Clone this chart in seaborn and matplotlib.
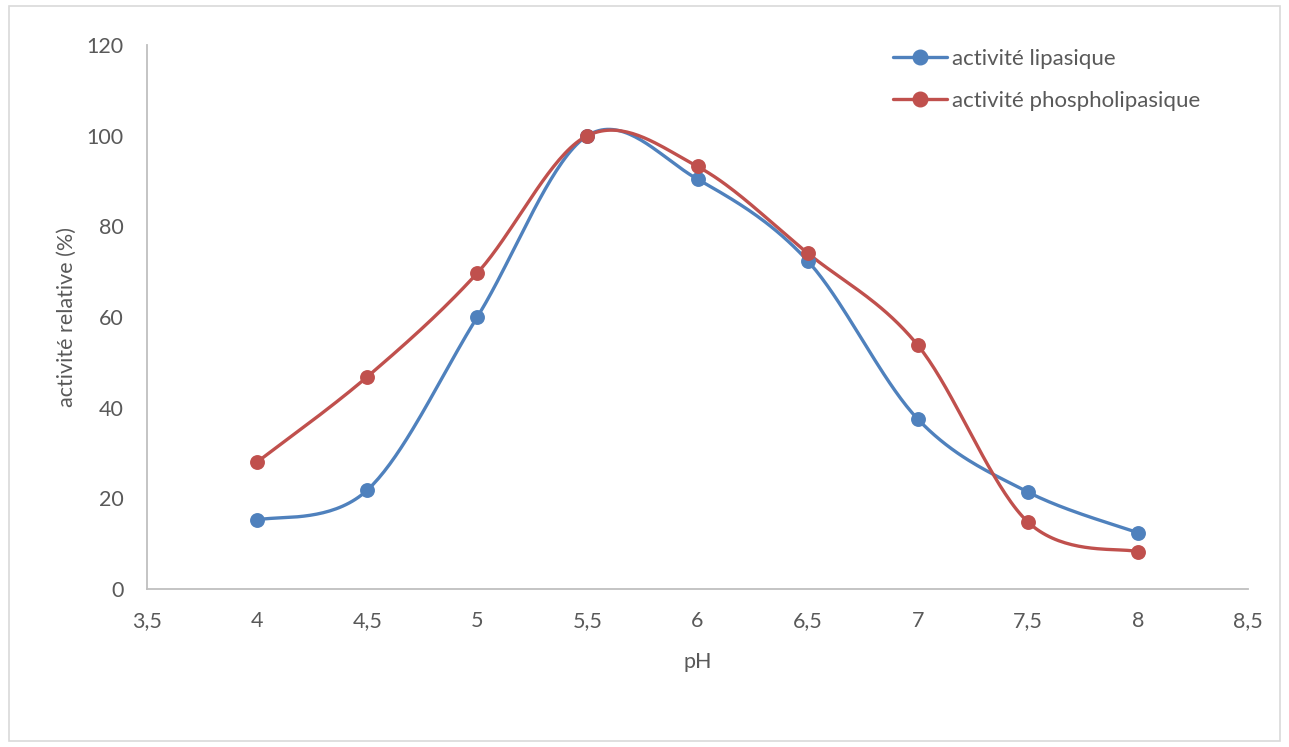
import numpy as np
import pandas as pd
import matplotlib
matplotlib.use("Agg")
import matplotlib.pyplot as plt
from matplotlib.lines import Line2D
from matplotlib.patches import Rectangle
import seaborn as sns

# pH values and relative activities (%)
ph = [4.0, 4.5, 5.0, 5.5, 6.0, 6.5, 7.0, 7.5, 8.0]
lipase = [15.2, 21.8, 60.0, 100.0, 90.4, 72.4, 37.5, 21.4, 12.4]
phospholipase = [28.0, 46.8, 69.7, 100.0, 93.2, 74.1, 53.8, 14.8, 8.2]

series_names = ["activité lipasique", "activité phospholipasique"]
series_colors = ["#4F81BD", "#C0504D"]
x_ticks = [3.5, 4, 4.5, 5, 5.5, 6, 6.5, 7, 7.5, 8, 8.5]
y_ticks = [0, 20, 40, 60, 80, 100, 120]

sns.set_theme(style="white")
plt.rcParams["font.family"] = ["Lato", "DejaVu Sans"]
text_color = "#595959"
fs = 15.5


def smooth_curve(xs, ys, n=40):
    """Catmull-Rom style Bezier smoothing through every point."""
    p = np.column_stack([xs, ys]).astype(float)
    p_ext = np.vstack([p[0], p, p[-1]])
    t = np.linspace(0, 1, n)[:, None]
    out = []
    for i in range(1, len(p_ext) - 2):
        p0, p1, p2, p3 = p_ext[i - 1], p_ext[i], p_ext[i + 1], p_ext[i + 2]
        c1 = p1 + (p2 - p0) / 6.0
        c2 = p2 - (p3 - p1) / 6.0
        seg = ((1 - t) ** 3) * p1 + 3 * ((1 - t) ** 2) * t * c1 \
            + 3 * (1 - t) * t ** 2 * c2 + t ** 3 * p2
        out.append(seg if i == 1 else seg[1:])
    seg_all = np.vstack(out)
    return seg_all[:, 0], seg_all[:, 1]


W, H = 1289, 747
fig = plt.figure(figsize=(W / 100, H / 100), dpi=100)
fig.patch.set_facecolor("white")
fig.add_artist(Rectangle((9 / W, 1 - 741 / H), (1280 - 9) / W, (741 - 6) / H,
                         transform=fig.transFigure, fill=False,
                         edgecolor="#D9D9D9", linewidth=1.2))

ax = fig.add_axes([147 / W, 1 - 589 / H, (1248 - 147) / W, (589 - 45) / H])

for name, vals, col in zip(series_names, [lipase, phospholipase], series_colors):
    sx, sy = smooth_curve(ph, vals)
    curve = pd.DataFrame({"pH": sx, "val": sy})
    sns.lineplot(data=curve, x="pH", y="val", ax=ax, color=col, linewidth=2.4,
                 sort=False, estimator=None, legend=False)
    pts = pd.DataFrame({"pH": ph, "val": vals})
    sns.scatterplot(data=pts, x="pH", y="val", ax=ax, color=col, s=115,
                    edgecolor=col, linewidth=0, legend=False, zorder=3)

ax.set_xlim(3.5, 8.5)
ax.set_ylim(0, 120)
ax.set_xticks(x_ticks)
ax.set_xticklabels([f"{v:g}".replace(".", ",") for v in x_ticks])
ax.set_yticks(y_ticks)
ax.set_yticklabels([str(v) for v in y_ticks])
ax.tick_params(axis="both", length=0, labelsize=fs, colors=text_color)
ax.tick_params(axis="x", pad=16)
ax.tick_params(axis="y", pad=17)

for side in ["top", "right"]:
    ax.spines[side].set_visible(False)
for side in ["left", "bottom"]:
    ax.spines[side].set_color("#BFBFBF")
    ax.spines[side].set_linewidth(1.3)

ax.set_xlabel("pH", fontsize=fs, color=text_color, labelpad=15)
ax.set_ylabel("activité relative (%)", fontsize=fs, color=text_color, labelpad=7)

handles = [Line2D([0], [0], color=c, linewidth=2.4, marker="o", markersize=10.5)
           for c in series_colors]
fig.legend(handles, series_names, loc="upper left",
           bbox_to_anchor=(893 / W, 1 - 49 / H), frameon=False, fontsize=16,
           handlelength=2.45, handletextpad=0.2, labelspacing=1.0,
           borderpad=0, borderaxespad=0, labelcolor=text_color)

fig.savefig("out.png", dpi=100, facecolor="white")
